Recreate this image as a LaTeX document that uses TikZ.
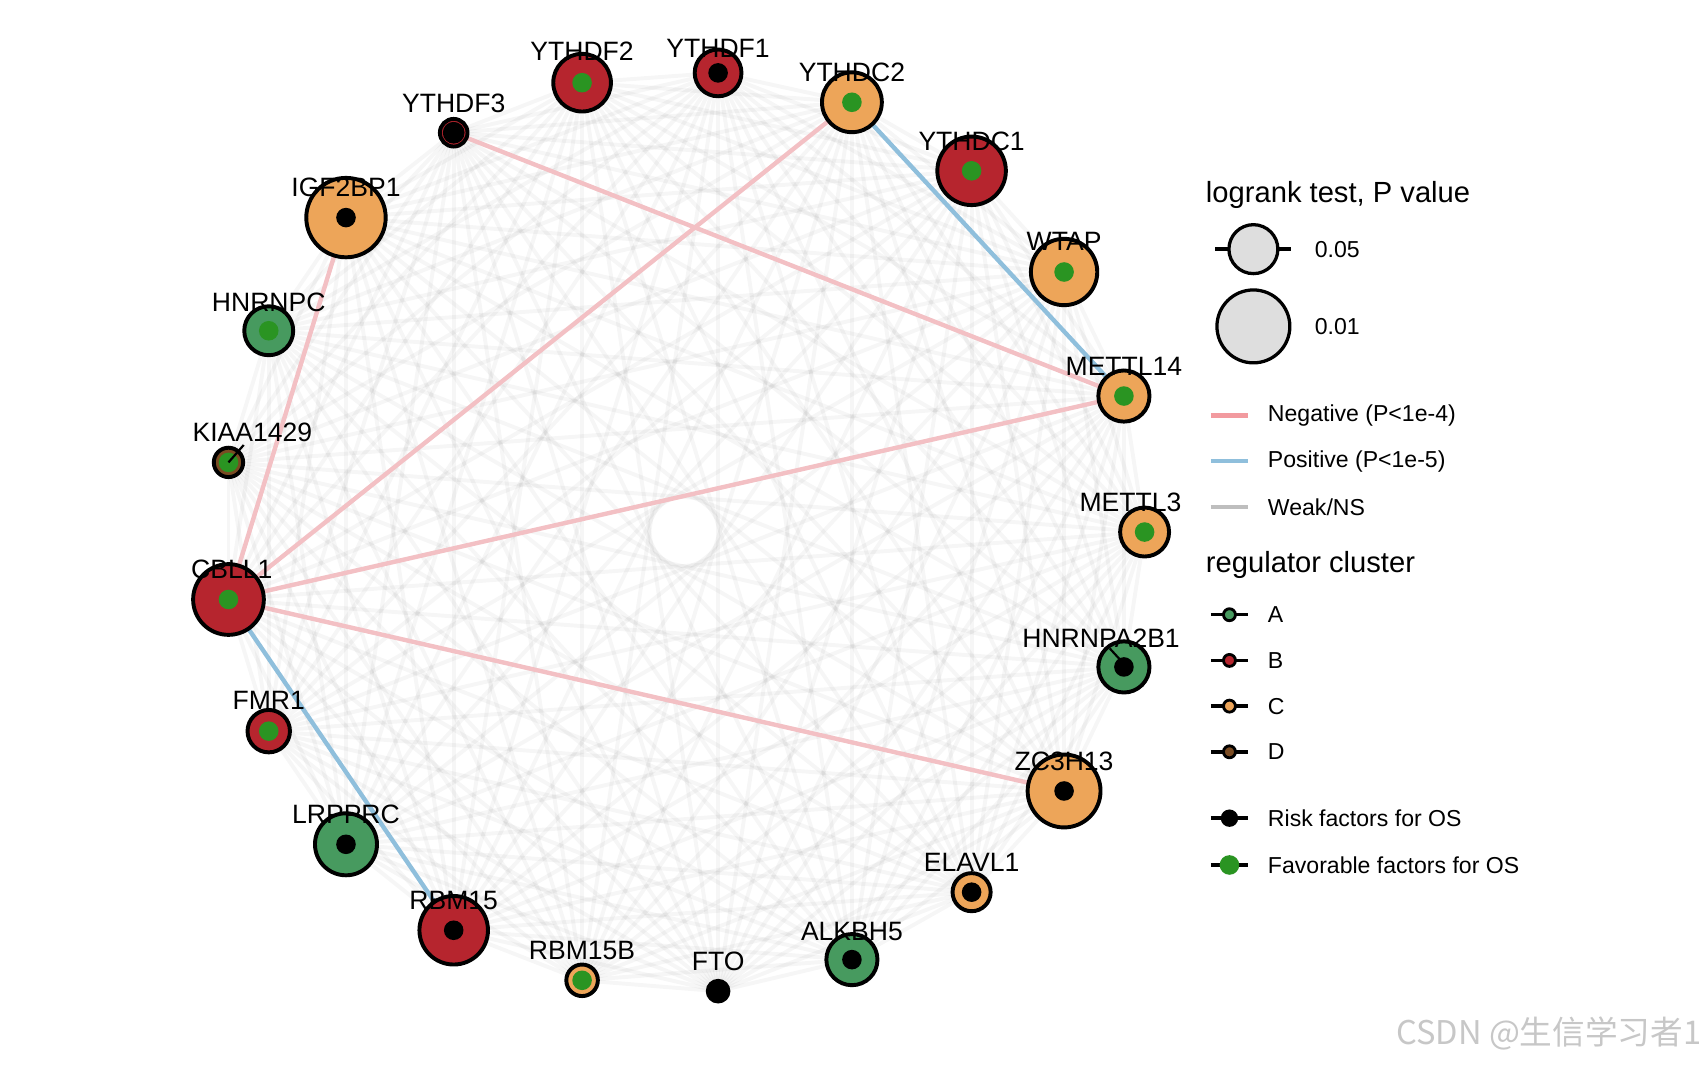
\documentclass[tikz,border=0pt]{standalone}
\usepackage{fontspec}
\setmainfont{Liberation Sans}
\newfontfamily\cjkfont{Noto Sans CJK SC}
\definecolor{clA}{HTML}{479A5F}
\definecolor{clB}{HTML}{B6252E}
\definecolor{clC}{HTML}{EDA559}
\definecolor{clD}{HTML}{7A4B22}
\definecolor{fav}{HTML}{2A9422}
\definecolor{negc}{HTML}{F3C0C4}
\definecolor{posc}{HTML}{8FBFDC}
\definecolor{negleg}{HTML}{F29A9F}
\definecolor{weakleg}{HTML}{BEBEBE}
\definecolor{keygray}{HTML}{DEDEDE}
\begin{document}
\begin{tikzpicture}[x=0.5pt,y=-0.5pt,
  gene/.style={circle, draw=black, line width=1.8pt, inner sep=0pt},
  dotk/.style={circle, fill=black, inner sep=0pt, minimum size=9pt},
  dotg/.style={circle, fill=fav, inner sep=0pt, minimum size=9pt},
  lab/.style={font=\fontsize{12.2}{13}\selectfont, anchor=base, inner sep=0pt},
  ttl/.style={font=\fontsize{13.4}{14}\selectfont, inner sep=0pt},
  leg/.style={font=\fontsize{10.6}{11}\selectfont, inner sep=0pt},
  weakedge/.style={draw=black, opacity=0.035, line width=1.8pt},
  negedge/.style={draw=negc, line width=2pt},
  posedge/.style={draw=posc, line width=2pt},
  keyline/.style={line width=1.6pt},
  leader/.style={draw=black, line width=1pt}]
\useasboundingbox (0,0) rectangle (1568,978);
\fill[white] (0,0) rectangle (1568,978);
% positions
\foreach \n/\x/\y in {YTHDF1/660/67, YTHDF2/535/76, YTHDC2/783/94, YTHDF3/417/122,
  YTHDC1/893/157, IGF2BP1/318/200, WTAP/978/250, HNRNPC/247/304, METTL14/1033/364,
  KIAA1429/210/425, METTL3/1052/489, CBLL1/210/551, HNRNPA2B1/1033/613, FMR1/247/672,
  ZC3H13/978/727, LRPPRC/318/776, ELAVL1/893/820, RBM15/417/855, ALKBH5/783/882,
  RBM15B/535/901, FTO/660/911}
  {\coordinate (\n) at (\x,\y);}
% weak edges
\foreach \a [count=\i] in {YTHDF1, YTHDF2, YTHDC2, YTHDF3, YTHDC1, IGF2BP1, WTAP, HNRNPC, METTL14,
  KIAA1429, METTL3, CBLL1, HNRNPA2B1, FMR1, ZC3H13, LRPPRC, ELAVL1, RBM15, ALKBH5, RBM15B, FTO}{
  \foreach \b [count=\j] in {YTHDF1, YTHDF2, YTHDC2, YTHDF3, YTHDC1, IGF2BP1, WTAP, HNRNPC, METTL14,
  KIAA1429, METTL3, CBLL1, HNRNPA2B1, FMR1, ZC3H13, LRPPRC, ELAVL1, RBM15, ALKBH5, RBM15B, FTO}{
    \ifnum\j>\i \draw[weakedge] (\a) -- (\b); \fi
  }
}
% significant edges
\draw[negedge] (YTHDF3) -- (METTL14);
\draw[negedge] (YTHDC2) -- (CBLL1);
\draw[negedge] (CBLL1) -- (METTL14);
\draw[negedge] (CBLL1) -- (ZC3H13);
\draw[negedge] (CBLL1) -- (IGF2BP1);
\draw[posedge] (YTHDC2) -- (METTL14);
\draw[posedge] (CBLL1) -- (RBM15);
% nodes
\foreach \n/\s/\c/\d/\ds in {YTHDF1/21.5/clB/k/9, YTHDF2/26.5/clB/g/9, YTHDC2/27.5/clC/g/9, YTHDF3/12.7/clB/k/10,
  YTHDC1/31.5/clB/g/9, IGF2BP1/36.5/clC/k/9, WTAP/30.5/clC/g/9, HNRNPC/22.5/clA/g/9, METTL14/23.5/clC/g/9,
  KIAA1429/13.5/clD/g/9, METTL3/22.5/clC/g/9, CBLL1/32.5/clB/g/9, HNRNPA2B1/23.5/clA/k/9, FMR1/19.5/clB/g/9,
  ZC3H13/33.5/clC/k/9, LRPPRC/28.5/clA/k/9, ELAVL1/17.5/clC/k/9, RBM15/31.5/clB/k/9, ALKBH5/23.5/clA/k/9,
  RBM15B/14.5/clC/g/9, FTO/9.5/black/k/9}{
  \node[gene, fill=\c, minimum size=\s pt] (n\n) at (\n) {};
  \node[dot\d, minimum size=\ds pt] (d\n) at (\n) {};
}
% leader segments
\coordinate (kiaaL) at (224,409);
\coordinate (hnrL) at (1020,596);
\coordinate (hnrE) at (1031,608);
\draw[leader] (kiaaL) -- (KIAA1429);
\draw[leader] (hnrL) -- (hnrE);
% labels
\foreach \n/\x/\y in {YTHDF1/660/53, YTHDF2/535/56, YTHDC2/783/75, YTHDF3/417/103,
  YTHDC1/893/138, IGF2BP1/318/181, WTAP/978/230, HNRNPC/247/286, METTL14/1033/345,
  KIAA1429/232/406, METTL3/1039/470, CBLL1/213/532, HNRNPA2B1/1012/595, FMR1/247/652,
  ZC3H13/978/708, LRPPRC/318/757, ELAVL1/893/801, RBM15/417/836, ALKBH5/783/864,
  RBM15B/535/882, FTO/660/892}
  {\node[lab] (l\n) at (\x,\y) {\n};}
% legend: size
\node[ttl, anchor=base west] (t1) at (1108,186) {logrank test, P value};
\coordinate (s1a) at (1117,229); \coordinate (s1b) at (1187,229);
\draw[keyline] (s1a) -- (s1b);
\node[gene, fill=keygray, line width=1.5pt, minimum size=22.5pt] (s1) at (1152,229) {};
\node[gene, fill=keygray, line width=1.5pt, minimum size=33.5pt] (s2) at (1152,300) {};
\node[leg, anchor=west] (s1t) at (1208,229) {0.05};
\node[leg, anchor=west] (s2t) at (1208,300) {0.01};
% legend: edges
\coordinate (e1a) at (1113,382); \coordinate (e1b) at (1147,382);
\coordinate (e2a) at (1113,424); \coordinate (e2b) at (1147,424);
\coordinate (e3a) at (1113,466); \coordinate (e3b) at (1147,466);
\draw[draw=negleg, line width=2pt] (e1a) -- (e1b);
\draw[draw=posc, line width=2pt] (e2a) -- (e2b);
\draw[draw=weakleg, line width=2pt] (e3a) -- (e3b);
\node[leg, anchor=west] (e1t) at (1165,382) {Negative (P<1e-4)};
\node[leg, anchor=west] (e2t) at (1165,424) {Positive (P<1e-5)};
\node[leg, anchor=west] (e3t) at (1165,466) {Weak/NS};
% legend: clusters
\node[ttl, anchor=west] (t2) at (1108,519) {regulator cluster};
\foreach \k/\y/\c in {A/565/clA, B/607/clB, C/649/clC, D/691/clD}{
  \coordinate (c\k a) at (1113,\y); \coordinate (c\k b) at (1147,\y);
  \draw[keyline] (c\k a) -- (c\k b);
  \node[circle, draw=black, line width=1.3pt, fill=\c, inner sep=0pt, minimum size=5.5pt] (ck\k) at (1130,\y) {};
  \node[leg, anchor=west] (ct\k) at (1165,\y) {\k};
}
% legend: OS
\coordinate (r1a) at (1113,752); \coordinate (r1b) at (1147,752);
\coordinate (r2a) at (1113,795); \coordinate (r2b) at (1147,795);
\draw[keyline] (r1a) -- (r1b);
\draw[keyline] (r2a) -- (r2b);
\node[dotk, minimum size=8pt] (rk) at (1130,752) {};
\node[dotg, minimum size=9pt] (rg) at (1130,795) {};
\node[leg, anchor=west] (rkt) at (1165,752) {Risk factors for OS};
\node[leg, anchor=west] (rgt) at (1165,795) {Favorable factors for OS};
% watermark
\node[font=\cjkfont\fontsize{15}{16}\selectfont, text=black!22, anchor=east, inner sep=0pt] (wm) at (1564,950) {CSDN @生信学习者1};
\end{tikzpicture}
\end{document}
